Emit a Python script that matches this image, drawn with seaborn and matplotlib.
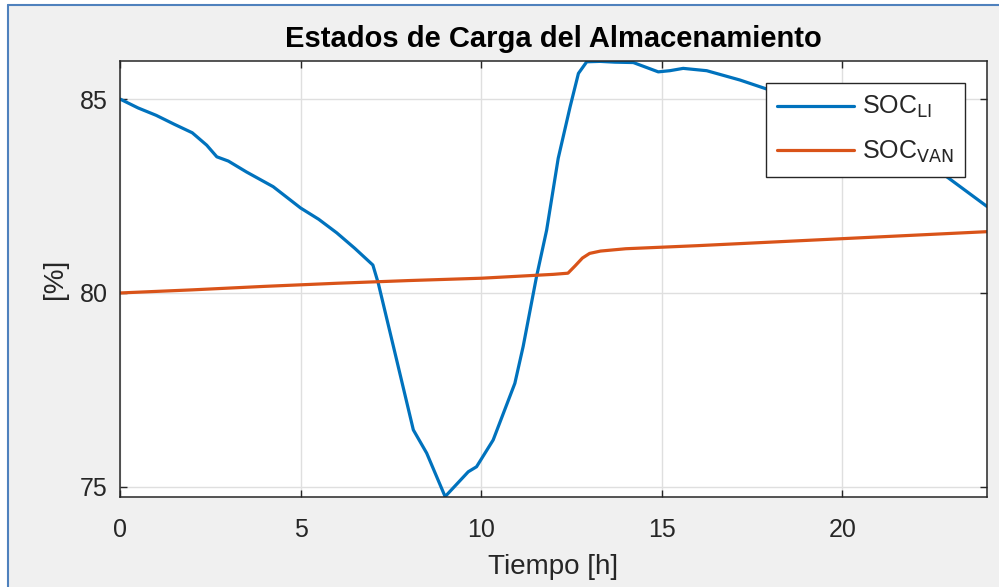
import numpy as np
import pandas as pd
import matplotlib
matplotlib.use("Agg")
import matplotlib.pyplot as plt
from matplotlib.patches import Rectangle
from matplotlib.lines import Line2D
import seaborn as sns

# State of charge of the lithium-ion storage [%] over time [h]
t_li = [0.0, 0.5, 1.0, 1.5, 2.0, 2.4, 2.68, 3.0, 3.5, 4.24, 5.0, 5.5, 6.0, 6.5, 7.0,
        7.15, 7.6, 8.12, 8.49, 9.0, 9.3, 9.64, 9.87, 10.33, 10.93, 11.16, 11.53, 11.81,
        12.13, 12.46, 12.69, 12.92, 13.29, 13.7, 14.21, 14.9, 15.22, 15.59, 16.24, 17.16,
        17.99, 19.0, 20.0, 21.0, 22.0, 22.88, 24.0]
soc_li = [85.0, 84.77, 84.58, 84.35, 84.13, 83.81, 83.51, 83.40, 83.12, 82.74, 82.19, 81.90,
          81.55, 81.15, 80.72, 80.25, 78.50, 76.47, 75.87, 74.75, 75.05, 75.39, 75.52, 76.21,
          77.67, 78.62, 80.42, 81.62, 83.47, 84.80, 85.66, 85.96, 85.97, 85.95, 85.94, 85.70,
          85.73, 85.79, 85.73, 85.49, 85.23, 84.90, 84.50, 84.05, 83.55, 83.00, 82.23]

# State of charge of the vanadium redox storage [%] over time [h]
t_van = [0.0, 2.0, 4.0, 6.0, 8.0, 10.0, 12.0, 12.4, 12.6, 12.8, 13.0, 13.3, 14.0, 16.0,
         18.0, 20.0, 22.0, 24.0]
soc_van = [80.0, 80.08, 80.17, 80.25, 80.32, 80.38, 80.48, 80.51, 80.70, 80.90, 81.02,
           81.08, 81.14, 81.22, 81.31, 81.40, 81.49, 81.58]

x_ticks = [0, 5, 10, 15, 20]
y_ticks = [75, 80, 85]
series_names = ["SOC$_{\\mathrm{LI}}$", "SOC$_{\\mathrm{VAN}}$"]
title_text = "Estados de Carga del Almacenamiento"
x_label = "Tiempo [h]"
y_label = "[%]"

df = pd.concat([
    pd.DataFrame({"t": t_li, "soc": soc_li, "serie": series_names[0]}),
    pd.DataFrame({"t": t_van, "soc": soc_van, "serie": series_names[1]}),
], ignore_index=True)

sns.set_theme(style="whitegrid")
plt.rcParams["font.family"] = ["Liberation Sans", "DejaVu Sans"]
plt.rcParams["mathtext.default"] = "regular"

colors = {series_names[0]: "#0072BD", series_names[1]: "#D95319"}

fig = plt.figure(figsize=(9.99, 5.87), dpi=100, facecolor="#F0F0F0")
W, H = 999, 587
ax = fig.add_axes([120 / W, 1 - 497 / H, (987 - 120) / W, (497 - 61) / H])
ax.set_facecolor("white")

sns.lineplot(data=df, x="t", y="soc", hue="serie", palette=colors, ax=ax,
             estimator=None, sort=False, linewidth=2.3, legend=False)

ax.set_xlim(0, 24)
ax.set_ylim(74.74, 85.98)
ax.set_xticks(x_ticks)
ax.set_yticks(y_ticks)
ax.grid(True, color="#DFDFDF", linewidth=1.0)
for s in ax.spines.values():
    s.set_color("#262626")
    s.set_linewidth(1.1)
ax.tick_params(direction="in", length=5, width=1.0, color="#262626",
               labelsize=18, labelcolor="#262626", top=True, right=True,
               bottom=True, left=True)
ax.tick_params(axis="x", pad=15)
ax.tick_params(axis="y", pad=9)

ax.set_title(title_text, fontsize=21, fontweight="bold", color="black", pad=10)
ax.set_xlabel(x_label, fontsize=20, color="#262626", labelpad=9)
ax.set_ylabel(y_label, fontsize=20, color="#262626", labelpad=8)

handles = [Line2D([], [], color=colors[n], linewidth=2.3) for n in series_names]
leg = ax.legend(handles, series_names, loc="upper right",
                bbox_to_anchor=(965 / W, 1 - 83 / H), bbox_transform=fig.transFigure,
                borderaxespad=0.0, fontsize=18, handlelength=3.1, handletextpad=0.3,
                labelspacing=0.75, borderpad=0.45, fancybox=False, framealpha=1.0,
                edgecolor="#262626", facecolor="white")
leg.get_frame().set_linewidth(1.0)
for txt in leg.get_texts():
    txt.set_color("#262626")

# window frame around the figure
fig.patches.append(Rectangle((0, 1 - 5 / H), 1, 5 / H, transform=fig.transFigure,
                             facecolor="white", edgecolor="none", zorder=0))
fig.patches.append(Rectangle((0, 0), 8 / W, 1, transform=fig.transFigure,
                             facecolor="white", edgecolor="none", zorder=0))
fig.lines.append(Line2D([8 / W, 1], [1 - 5 / H, 1 - 5 / H], transform=fig.transFigure,
                        color="#4F81BD", linewidth=1.5))
fig.lines.append(Line2D([8 / W, 8 / W], [0, 1 - 5 / H], transform=fig.transFigure,
                        color="#4F81BD", linewidth=1.5))

fig.savefig("out.png", dpi=100, facecolor=fig.get_facecolor())
